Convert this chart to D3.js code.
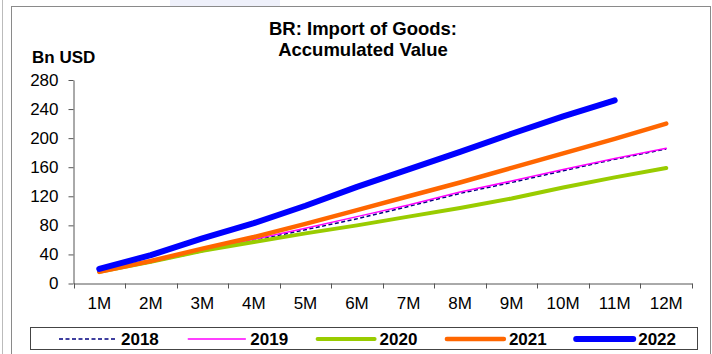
<!DOCTYPE html>
<html>
<head>
<meta charset="utf-8">
<script src="https://cdn.jsdelivr.net/npm/d3@7"></script>
<style>
  html, body { margin: 0; padding: 0; background: #fff; }
  svg { display: block; font-family: Arial, "Liberation Sans", sans-serif; }
</style>
</head>
<body>
<svg id="chart" width="712" height="354"></svg>
<script>
// Cumulative monthly imports, Bn USD
const months = ["1M","2M","3M","4M","5M","6M","7M","8M","9M","10M","11M","12M"];
const yTicks = [0, 40, 80, 120, 160, 200, 240, 280];
const v2018 = [16, 29, 44, 59, 74, 89, 106, 124, 139, 155, 171, 185];
const v2019 = [17, 30, 46, 61, 76, 92, 108, 126, 141, 157, 172, 186];
const v2020 = [16, 30, 45, 57, 69, 80, 92, 104, 117, 132, 146, 159];
const v2021 = [16, 31, 48, 64, 82, 101, 120, 139, 159, 179, 199, 220];
const v2022 = [20, 39, 62, 83, 107, 133, 157, 181, 206, 230, 252];

const series = [
  { name: "2018", values: v2018, color: "#000080", width: 1.5, dash: "4,2.5" },
  { name: "2019", values: v2019, color: "#FF00FF", width: 1.5, dash: null },
  { name: "2020", values: v2020, color: "#99CC00", width: 4, dash: null },
  { name: "2021", values: v2021, color: "#FF6600", width: 4.5, dash: null },
  { name: "2022", values: v2022, color: "#0000FF", width: 6, dash: null }
];

const svg = d3.select("#chart");
const FONT = "Arial, 'Liberation Sans', sans-serif";

// outer frame
svg.append("rect").attr("x", 170).attr("y", 0).attr("width", 110).attr("height", 6).attr("fill", "#eef0fa");
svg.append("line").attr("x1", 2.5).attr("x2", 2.5).attr("y1", 0).attr("y2", 354).attr("stroke", "#bbb").attr("stroke-width", 1);
svg.append("rect").attr("x", 11.5).attr("y", 6.5).attr("width", 699).attr("height", 360)
  .attr("fill", "none").attr("stroke", "#8a8a8a").attr("stroke-width", 1);

const plotLeft = 73.5, plotRight = 692, plotTop = 80, plotBottom = 283.5;

const x = d3.scaleBand().domain(months).range([plotLeft, plotRight]);
const y = d3.scaleLinear().domain([0, 280]).range([plotBottom, plotTop]);

// title
const title = svg.append("text").attr("x", 363).attr("text-anchor", "middle")
  .attr("font-weight", "bold").attr("font-size", 18.5).attr("fill", "#000");
title.append("tspan").attr("x", 363).attr("y", 35).text("BR: Import of Goods:");
title.append("tspan").attr("x", 363).attr("y", 56).text("Accumulated Value");

svg.append("text").attr("x", 32).attr("y", 63).attr("font-weight", "bold")
  .attr("font-size", 17).attr("fill", "#000").text("Bn USD");

// y axis
const yAxis = svg.append("g").attr("transform", `translate(${plotLeft},0)`)
  .call(d3.axisLeft(y).tickValues(yTicks).tickSize(5).tickPadding(10).tickSizeOuter(0));
yAxis.selectAll("text").attr("font-size", 17).attr("fill", "#000").attr("font-family", FONT);

// x axis
const xAxis = svg.append("g").attr("transform", `translate(0,${plotBottom})`)
  .call(d3.axisBottom(x).tickSize(0).tickPadding(13));
xAxis.selectAll("text").attr("font-size", 17).attr("fill", "#000").attr("font-family", FONT);
// category boundary ticks
const bounds = months.map(m => x(m)).concat([plotRight]);
xAxis.selectAll("line.bound").data(bounds).enter().append("line").attr("class", "bound")
  .attr("x1", d => Math.round(d) + 0.5).attr("x2", d => Math.round(d) + 0.5)
  .attr("y1", 0).attr("y2", 5).attr("stroke", "#555");
svg.selectAll(".domain").attr("stroke", "#555");
yAxis.selectAll(".tick line").attr("stroke", "#555");

// lines
const line = d3.line()
  .x((d, i) => x(months[i]) + x.bandwidth() / 2)
  .y(d => y(d));

svg.append("g").selectAll("path").data(series).enter().append("path")
  .attr("d", s => line(s.values))
  .attr("fill", "none")
  .attr("stroke", s => s.color)
  .attr("stroke-width", s => s.width)
  .attr("stroke-dasharray", s => s.dash)
  .attr("stroke-linecap", s => s.dash ? "butt" : "round")
  .attr("stroke-linejoin", "round");

// legend
const lg = svg.append("g");
lg.append("rect").attr("x", 30.5).attr("y", 327.5).attr("width", 667).attr("height", 22)
  .attr("fill", "#fff").attr("stroke", "#444").attr("stroke-width", 1);
const item = lg.selectAll("g.item").data(series).enter().append("g").attr("class", "item")
  .attr("transform", (d, i) => `translate(${59 + i * 129.3},339)`);
item.append("line").attr("x1", 0).attr("x2", 57).attr("y1", 0).attr("y2", 0)
  .attr("stroke", d => d.color).attr("stroke-width", d => d.width)
  .attr("stroke-dasharray", d => d.dash)
  .attr("stroke-linecap", d => d.dash ? "butt" : "round");
item.append("text").attr("x", 62).attr("y", 6).attr("font-weight", "bold")
  .attr("font-size", 17).attr("fill", "#000").text(d => d.name);
</script>
</body>
</html>
